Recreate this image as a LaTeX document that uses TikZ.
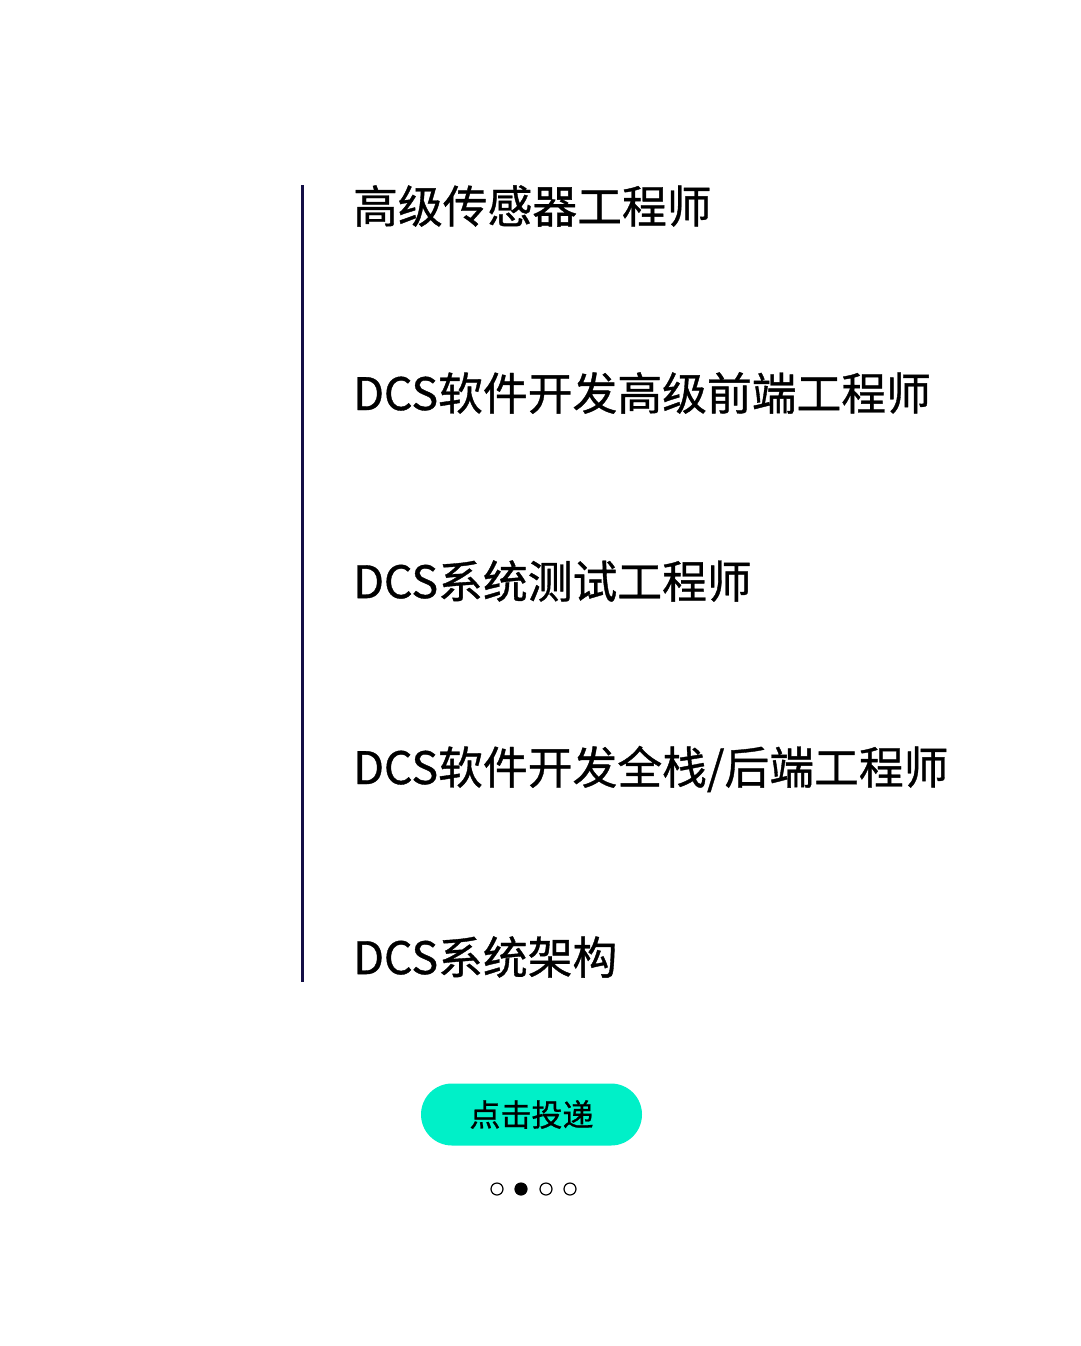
\documentclass[tikz,border=0pt]{standalone}
\usepackage{fontspec}
\setmainfont{Noto Sans CJK SC}
\newfontfamily\med[FakeBold=0.8]{Noto Sans CJK SC}
\begin{document}
\begin{tikzpicture}[x=1pt,y=-1pt,
  job/.style={anchor=west,inner sep=0pt,font=\med\fontsize{44.8}{48}\selectfont},
  dot/.style={circle,draw=black,line width=1.2pt,minimum size=12pt,inner sep=0pt}]
\useasboundingbox (0,0) rectangle (1080,1346);
\fill[white] (0,0) rectangle (1080,1346);
\coordinate (t) at (302,185);
\coordinate (b) at (302,982);
\draw[line width=3pt,color={rgb,255:red,20;green,15;blue,70}] (t) -- (b);
\node[job] (j1) at (353,206) {高级传感器工程师};
\node[job] (j2) at (353,393) {DCS软件开发高级前端工程师};
\node[job] (j3) at (353,581) {DCS系统测试工程师};
\node[job] (j4) at (353,769) {DCS软件开发全栈/后端工程师};
\node[job] (j5) at (353,957) {DCS系统架构};
\node[rounded corners=31pt,fill={rgb,255:red,0;green,240;blue,200},minimum width=221pt,minimum height=62pt,font=\med\fontsize{31}{34}\selectfont] (btn) at (531.5,1114.5) {点击投递};
\node[dot] (d1) at (497,1189) {};
\node[dot,fill=black] (d2) at (521,1189) {};
\node[dot] (d3) at (546,1189) {};
\node[dot] (d4) at (570,1189) {};
\end{tikzpicture}
\end{document}
